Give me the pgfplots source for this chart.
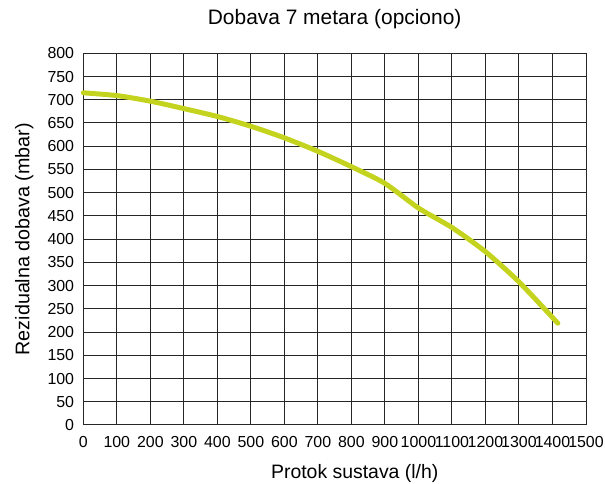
\documentclass[border=0pt]{standalone}
\usepackage{pgfplots}
\pgfplotsset{compat=1.18}
\usepackage{fontspec}
\setmainfont{Liberation Sans}
\definecolor{curvegreen}{RGB}{196,212,30}
\begin{document}
\begin{tikzpicture}
\begin{axis}[
  scale only axis,
  width=502.7bp, height=371.7bp,
  at={(0,0)}, anchor=south west,
  xmin=0, xmax=1500, ymin=0, ymax=800,
  xtick={0,100,...,1500}, ytick={0,50,...,800},
  major tick length=0pt,
  grid=major,
  major grid style={black!85, line width=1bp},
  axis line style={black!85, line width=1bp},
  /pgf/number format/assume math mode=true,
  /pgf/number format/1000 sep={},
  tick label style={font=\fontsize{16}{17}\selectfont},
  xticklabel style={anchor=base, yshift=-23bp, inner sep=0pt},
  yticklabel style={anchor=east, xshift=-9bp, inner sep=0pt},
  title={Dobava 7 metara (opciono)},
  title style={font=\fontsize{21}{22}\selectfont, at={(0.5,1)}, anchor=base, yshift=23.3bp, inner sep=0pt},
  xlabel={Protok sustava (l/h)},
  xlabel style={font=\fontsize{19.5}{21}\selectfont, at={(axis description cs:0.54,0)}, anchor=base, yshift=-54bp, inner sep=0pt},
  ylabel={Rezidualna dobava (mbar)},
  every axis y label/.style={font=\fontsize{19.8}{21}\selectfont, at={(axis description cs:0,0.5)}, anchor=base, rotate=90, yshift=54bp, inner sep=0pt},
  clip=false,
]
\addplot[curvegreen, line width=5bp, line cap=round, line join=round, smooth, tension=0.4] coordinates {
  (0,715) (100,709) (200,697) (300,681) (400,664) (500,643) (600,618)
  (700,589) (800,556) (900,520) (1000,467) (1100,425) (1200,373)
  (1300,308) (1416,219)
};
\end{axis}
\path[use as bounding box] (-83.3bp,-57bp) rectangle (521.7bp,425bp);
\end{tikzpicture}
\end{document}
